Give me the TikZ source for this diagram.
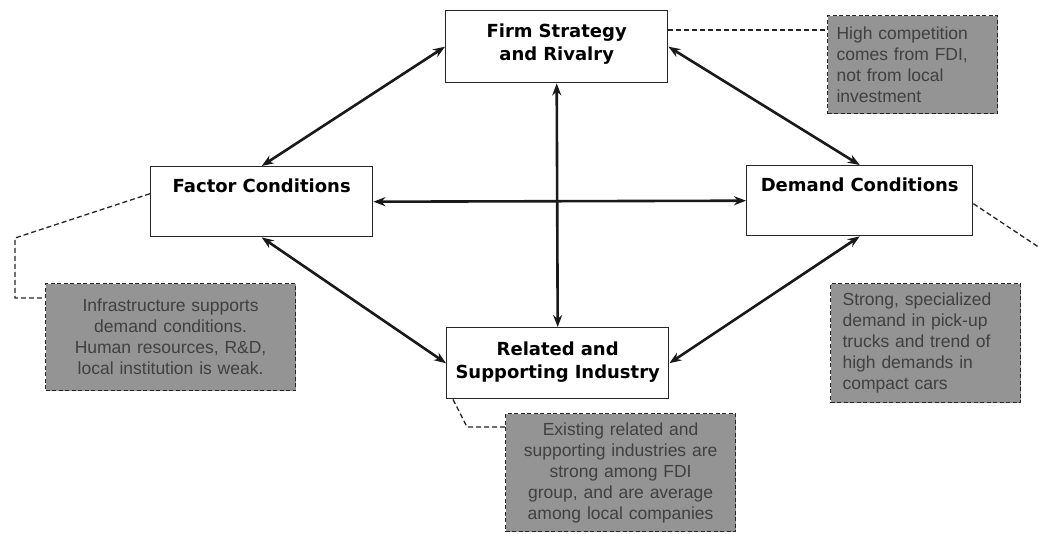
\documentclass[tikz,border=0pt]{standalone}
\usepackage{fontspec}
\setmainfont{Liberation Sans}
\newfontfamily\boxfont{DejaVu Sans}
\usetikzlibrary{arrows.meta}
\begin{document}
\begin{tikzpicture}[x=1pt,y=-1pt,
  mainbox/.style={draw=black!85, line width=1.4pt, fill=white, inner sep=0pt,
    anchor=north west, align=center,
    font=\boxfont\bfseries\fontsize{18}{23}\selectfont},
  note/.style={draw=black!85, line width=1.2pt, dash pattern=on 4pt off 2.5pt,
    fill=black!42, text=black!75, inner sep=0pt, anchor=north west,
    font=\fontsize{17.5}{21}\selectfont},
  biarrow/.style={line width=2.6pt, draw=black!90,
    {Stealth[length=12pt,width=9pt]}-{Stealth[length=12pt,width=9pt]}},
  dashline/.style={line width=1.3pt, draw=black!85, dash pattern=on 5pt off 3pt}]
\useasboundingbox[fill=white] (0,0) rectangle (1040,533);

% main boxes
\node[mainbox, text width=222pt, text height=27pt, text depth=45pt] (firm) at (445,10)
  {Firm Strategy\\and Rivalry};
\node[mainbox, text width=222pt, text height=26pt, text depth=44pt] (factor) at (150,166)
  {Factor Conditions};
\node[mainbox, text width=226pt, text height=26pt, text depth=44pt] (demand) at (746,165)
  {Demand Conditions};
\node[mainbox, text width=222pt, text height=28pt, text depth=43pt] (related) at (446,327)
  {Related and\\Supporting Industry};

% notes
\node[note, minimum width=170pt, minimum height=98pt, text width=152pt, align=left] (topnote) at (827,15)
  {High competition\\comes from FDI,\\not from local\\investment};
\node[note, minimum width=190pt, minimum height=119pt, text width=166pt, align=left] (rightnote) at (830,283)
  {Strong, specialized\\demand in pick-up\\trucks and trend of\\high demands in\\compact cars};
\node[note, minimum width=250pt, minimum height=107pt, text width=236pt, align=center] (leftnote) at (45,283)
  {Infrastructure supports\\demand conditions.\\Human resources, R\&D,\\local institution is weak.};
\node[note, minimum width=230pt, minimum height=118pt, text width=226pt, align=center] (botnote) at (505,413)
  {Existing related and\\supporting industries are\\strong among FDI\\group, and are average\\among local companies};

% arrows
\draw[biarrow] (firm.west) -- (factor.north);
\draw[biarrow] (firm.east) -- (demand.north);
\draw[biarrow] (firm.south) -- (related.north);
\draw[biarrow] (factor.east) -- (demand.west);
\draw[biarrow] (factor.south) -- (related.west);
\draw[biarrow] (demand.south) -- (related.east);

% dashed connectors
\coordinate (lbend) at (15,238);
\coordinate (bbend) at (467,427);
\coordinate (rend) at (1040,248);
\draw[dashline] ([yshift=-20pt]firm.north east) -- ([yshift=-20pt]firm.north east -| topnote.west);
\draw[dashline] ([yshift=8pt]factor.west) -- (lbend) |- ([yshift=-15pt]leftnote.north west);
\draw[dashline] ([xshift=7pt]related.south west) -- (bbend) -- (bbend -| botnote.west);
\draw[dashline] ([yshift=-3pt]demand.east) -- (rend);
\end{tikzpicture}
\end{document}
